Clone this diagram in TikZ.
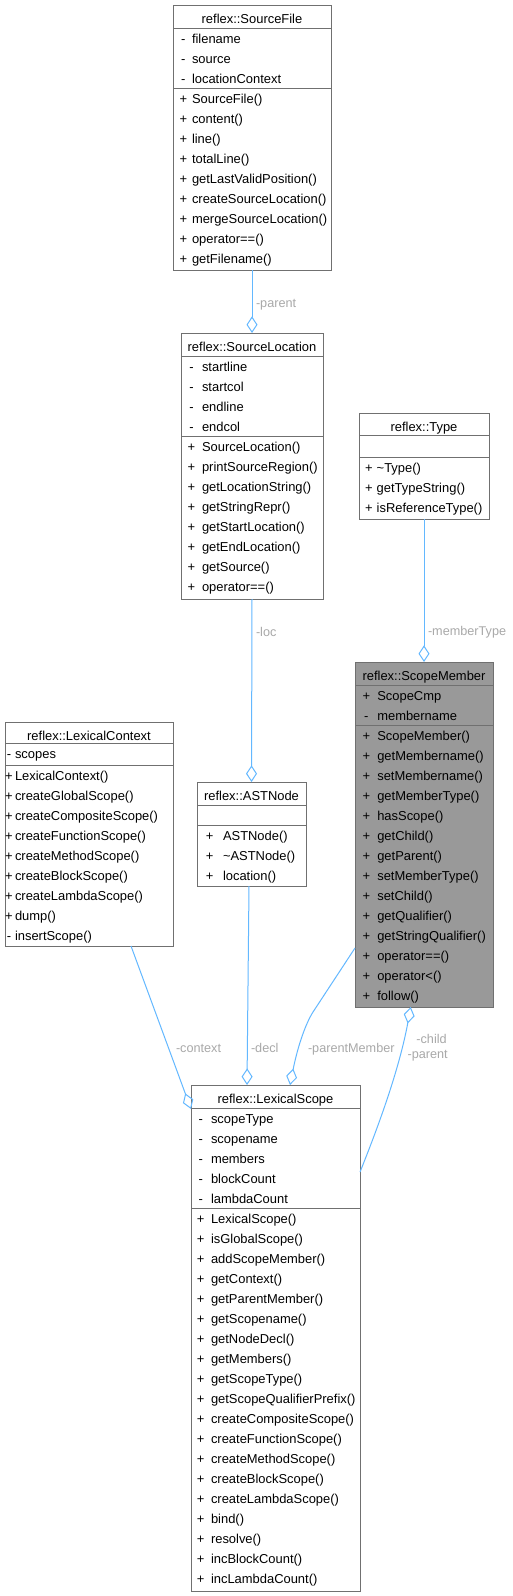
\documentclass[tikz,border=0pt]{standalone}
\usepackage{fontspec}
\setmainfont{Liberation Sans}
\usetikzlibrary{arrows.meta}
\definecolor{edgeblue}{HTML}{63B8FF}
\definecolor{labgray}{HTML}{A9A9A9}
\definecolor{boxgray}{HTML}{707070}
\definecolor{curfill}{HTML}{999999}
\tikzset{
 cbox/.style={draw=boxgray, line width=0.75pt, rectangle, inner sep=0pt, outer sep=0pt},
 cline/.style={draw=boxgray, line width=0.75pt},
 ctext/.style={inner sep=0pt, outer sep=0pt, font=\fontsize{9.7pt}{12pt}\selectfont, text=black},
 elabel/.style={inner sep=0pt, outer sep=0pt, font=\fontsize{9.5pt}{12pt}\selectfont, text=labgray, anchor=base west},
 agg/.style={draw=edgeblue, line width=0.75pt, -{Diamond[open, length=12.5pt, width=8.25pt]}},
}
% #1 name, #2 xl, #3 xr, #4 top, #5 header bottom, #6 attr bottom, #7 bottom, #8 fill, #9 title
\newcommand\classbox[9]{%
 \node[cbox, fill=#8, minimum width={(#3-#2)*0.75pt}, minimum height={(#7-#4)*0.75pt}] (#1) at ({(#2+#3)/2},{(#4+#7)/2}) {};
 \draw[cline] (#2,#5) -- (#3,#5);
 \draw[cline] (#2,#6) -- (#3,#6);
 \node[ctext, anchor=base] (#1-t) at ({(#2+#3)/2},{#4+18.5}) {#9};
}
% #1 prefix, #2 xl, #3 compartment top, #4 symbol offset, #5 name offset, #6 list
\newcommand\members[6]{%
 \foreach \msym/\mname [count=\k] in {#6} {%
  \node[ctext, anchor=base] (#1-s\k) at ({#2+#4},{#3+15.5+20*(\k-1)}) {\msym};
  \node[ctext, anchor=base west] (#1-n\k) at ({#2+#5},{#3+15.5+20*(\k-1)}) {\mname};
 }%
}
\begin{document}
\begin{tikzpicture}[x=0.75pt, y=-0.75pt]
\fill[white] (0,0) rectangle (512,1596);
\useasboundingbox (0,0) rectangle (512,1596);

% SourceFile
\classbox{sf}{173}{331}{5}{28}{88}{270}{white}{reflex::SourceFile}
\members{sf-a}{173}{28}{10.3}{19}{-/filename,-/source,-/locationContext}
\members{sf-m}{173}{88}{10.3}{19}{+/SourceFile(),+/content(),+/line(),+/totalLine(),+/getLastValidPosition(),+/createSourceLocation(),+/mergeSourceLocation(),+/operator==(),+/getFilename()}

% SourceLocation
\classbox{sl}{181}{323}{333}{356}{436}{599}{white}{reflex::SourceLocation}
\members{sl-a}{181}{356}{10.5}{21}{-/startline,-/startcol,-/endline,-/endcol}
\members{sl-m}{181}{436}{10.5}{21}{+/SourceLocation(),+/printSourceRegion(),+/getLocationString(),+/getStringRepr(),+/getStartLocation(),+/getEndLocation(),+/getSource(),+/operator==()}

% Type
\classbox{ty}{359}{489}{413}{435}{457}{519}{white}{reflex::Type}
\members{ty-m}{359}{457}{9.8}{17.7}{+/\textasciitilde Type(),+/getTypeString(),+/isReferenceType()}

% ScopeMember
\classbox{sm}{355}{493}{662}{685}{725}{1007}{curfill}{reflex::ScopeMember}
\members{sm-a}{355}{685}{11.3}{22.3}{+/ScopeCmp,-/membername}
\members{sm-m}{355}{725}{11.3}{22.3}{+/ScopeMember(),+/getMembername(),+/setMembername(),+/getMemberType(),+/hasScope(),+/getChild(),+/getParent(),+/setMemberType(),+/setChild(),+/getQualifier(),+/getStringQualifier(),+/operator==(),+/operator<(),+/follow()}

% LexicalContext
\classbox{lc}{5}{173}{722}{743}{765}{946}{white}{reflex::LexicalContext}
\members{lc-a}{5}{743}{4}{10}{-/scopes}
\members{lc-m}{5}{765}{4}{10}{+/LexicalContext(),+/createGlobalScope(),+/createCompositeScope(),+/createFunctionScope(),+/createMethodScope(),+/createBlockScope(),+/createLambdaScope(),+/dump(),-/insertScope()}

% ASTNode
\classbox{an}{197}{306}{782}{805}{825}{886}{white}{reflex::ASTNode}
\members{an-m}{197}{825}{12.7}{26}{+/ASTNode(),+/\textasciitilde ASTNode(),+/location()}

% LexicalScope
\classbox{ls}{191}{360}{1085}{1108}{1208}{1591}{white}{reflex::LexicalScope}
\members{ls-a}{191}{1108}{9.7}{20}{-/scopeType,-/scopename,-/members,-/blockCount,-/lambdaCount}
\members{ls-m}{191}{1208}{9.7}{20}{+/LexicalScope(),+/isGlobalScope(),+/addScopeMember(),+/getContext(),+/getParentMember(),+/getScopename(),+/getNodeDecl(),+/getMembers(),+/getScopeType(),+/getScopeQualifierPrefix(),+/createCompositeScope(),+/createFunctionScope(),+/createMethodScope(),+/createBlockScope(),+/createLambdaScope(),+/bind(),+/resolve(),+/incBlockCount(),+/incLambdaCount()}

% connectors
\coordinate (lc-out) at (131,946);
\coordinate (ls-ctx) at (191,1109);
\coordinate (an-out) at (249,886);
\coordinate (ls-decl) at (247,1085);
\coordinate (sm-out) at (355,948);
\coordinate (sm-bend) at (313,1012);
\coordinate (ls-pm) at (290,1085);
\coordinate (ls-out) at (360,1172);
\coordinate (sm-in) at (410.7,1007);

\draw[agg] (sf.south) -- (sl.north);
\draw[agg] (sl.south) -- (an.north);
\draw[agg] (ty.south) -- (sm.north);
\draw[agg] (lc-out) -- (ls-ctx);
\draw[agg] (an-out) -- (ls-decl);
\draw[agg] (sm-out) -- (sm-bend) .. controls (306,1023) and (298,1045) .. (ls-pm);
\draw[agg] (ls-out) .. controls (385,1110) and (401,1060) .. (sm-in);

% labels
\node[elabel] (lab-parent) at (256,307.2) {-parent};
\node[elabel] (lab-mtype) at (428,635.5) {-memberType};
\node[elabel] (lab-loc) at (256,636.5) {-loc};
\node[elabel] (lab-context) at (176,1052.2) {-context};
\node[elabel] (lab-decl) at (251,1052.2) {-decl};
\node[elabel] (lab-pm) at (308,1052.2) {-parentMember};
\node[elabel, anchor=base east] (lab-child) at (446.7,1043.8) {-child};
\node[elabel, anchor=base east] (lab-parent2) at (447.7,1058.8) {-parent};
\end{tikzpicture}
\end{document}
